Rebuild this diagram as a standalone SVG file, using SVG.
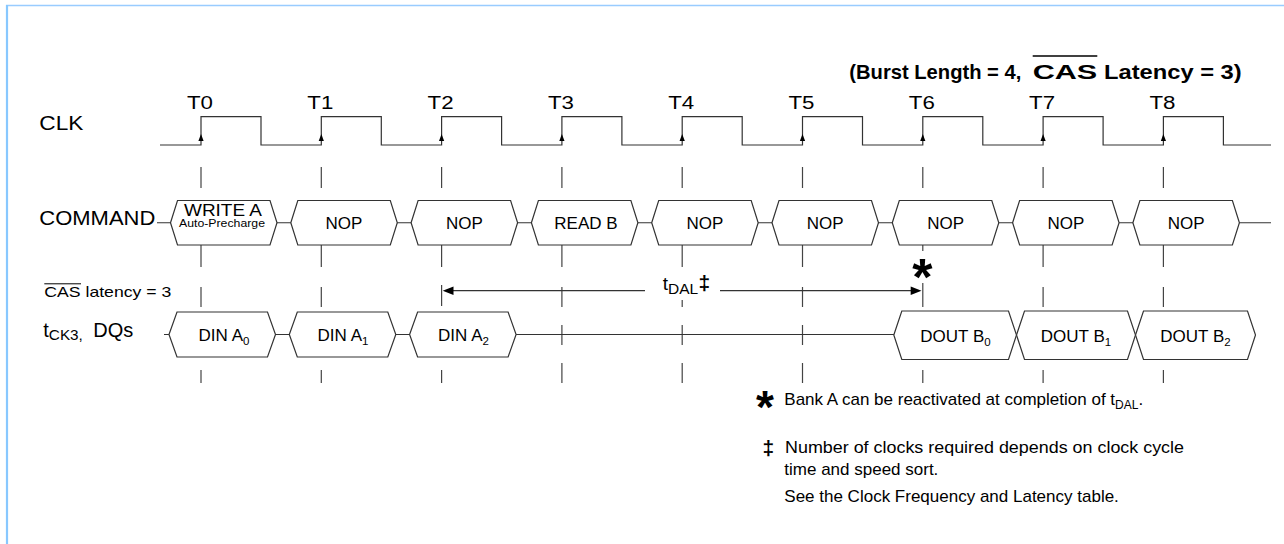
<svg xmlns="http://www.w3.org/2000/svg" width="1284" height="544" viewBox="0 0 1284 544">
<style>
text{font-family:"Liberation Sans",Arial,Helvetica,sans-serif;fill:#000}
.ln{stroke:#333;stroke-width:1.2;fill:none}
.bx{stroke:#333;stroke-width:1.2;fill:#fff}
.tk{stroke:#444;stroke-width:1.2}
.lbl{font-size:17px;text-anchor:middle}
.tl{font-size:18px;text-anchor:middle}
.sub{font-size:11.5px}
.note{font-size:17px}
</style>
<defs>
<path id="ck" d="M0,0 L-2.6,7 L2.6,7 Z" fill="#000"/>
</defs>
<rect x="0" y="0" width="1284" height="544" fill="#fff"/>
<line x1="6" y1="5.5" x2="1284" y2="5.5" stroke="#99ccff" stroke-width="1.5"/>
<line x1="7" y1="5" x2="7" y2="544" stroke="#88c8ff" stroke-width="2.2"/>

<g id="title">
<text y="79.3" font-size="21" font-weight="bold"><tspan x="849.3" textLength="172" lengthAdjust="spacingAndGlyphs">(Burst Length = 4,</tspan><tspan x="1032.7" textLength="64.6" lengthAdjust="spacingAndGlyphs">CAS</tspan><tspan x="1104" textLength="137.7" lengthAdjust="spacingAndGlyphs">Latency = 3)</tspan></text>
<line x1="1032.7" y1="56" x2="1097.3" y2="56" stroke="#000" stroke-width="1.6"/>
</g>

<g id="labels">
<text x="39.3" y="130" font-size="19.5" textLength="44" lengthAdjust="spacingAndGlyphs">CLK</text>
<text x="39.3" y="224.5" font-size="19.5" textLength="116" lengthAdjust="spacingAndGlyphs">COMMAND</text>
<text x="44.3" y="296.5" font-size="15" textLength="127" lengthAdjust="spacingAndGlyphs">CAS latency = 3</text>
<line x1="44.3" y1="283.8" x2="81" y2="283.8" stroke="#000" stroke-width="1"/>
<text x="43.3" y="336.7" font-size="20">t<tspan font-size="14" dy="3.5" textLength="34" lengthAdjust="spacingAndGlyphs">CK3,</tspan><tspan x="93.3" dy="-3.5" font-size="19.5" textLength="40" lengthAdjust="spacingAndGlyphs">DQs</tspan></text>
</g>

<g id="clock-labels">
<text class="tl" x="200" y="109" textLength="26" lengthAdjust="spacingAndGlyphs">T0</text>
<text class="tl" x="320.3" y="109" textLength="26" lengthAdjust="spacingAndGlyphs">T1</text>
<text class="tl" x="440.6" y="109" textLength="26" lengthAdjust="spacingAndGlyphs">T2</text>
<text class="tl" x="560.9" y="109" textLength="26" lengthAdjust="spacingAndGlyphs">T3</text>
<text class="tl" x="681.2" y="109" textLength="26" lengthAdjust="spacingAndGlyphs">T4</text>
<text class="tl" x="801.5" y="109" textLength="26" lengthAdjust="spacingAndGlyphs">T5</text>
<text class="tl" x="921.8" y="109" textLength="26" lengthAdjust="spacingAndGlyphs">T6</text>
<text class="tl" x="1042.1" y="109" textLength="26" lengthAdjust="spacingAndGlyphs">T7</text>
<text class="tl" x="1162.4" y="109" textLength="26" lengthAdjust="spacingAndGlyphs">T8</text>
</g>

<g id="connectors">
<path class="ln" d="M160,145 H201 V116.7 H261 V145 H321.3 V116.7 H381.3 V145 H441.6 V116.7 H501.6 V145 H561.9 V116.7 H621.9 V145 H682.2 V116.7 H742.2 V145 H802.5 V116.7 H862.5 V145 H922.8 V116.7 H982.8 V145 H1043.1 V116.7 H1103.1 V145 H1163.4 V116.7 H1223.4 V145 H1271"/>
<use href="#ck" x="201" y="134"/><use href="#ck" x="321.3" y="134"/><use href="#ck" x="441.6" y="134"/>
<use href="#ck" x="561.9" y="134"/><use href="#ck" x="682.2" y="134"/><use href="#ck" x="802.5" y="134"/>
<use href="#ck" x="922.8" y="134"/><use href="#ck" x="1043.1" y="134"/><use href="#ck" x="1163.4" y="134"/>
<path class="tk" d="M201,167V188M321.3,167V188M441.6,167V188M561.9,167V188M682.2,167V188M802.5,167V188M922.8,167V188M1043.1,167V188M1163.4,167V188"/>
<path class="tk" d="M201,245V267M321.3,245V267M441.6,245V267M561.9,245V267M682.2,245V267M802.5,245V267M922.8,245V251M1043.1,245V267M1163.4,245V267"/>
<path class="tk" d="M201,287V307M321.3,287V307M441.6,285V306M561.9,287V307M682.2,300V307M802.5,287V307M922.8,283V307M1043.1,287V307M1163.4,287V307"/>
<path class="tk" d="M561.9,325V345M682.2,325V345M802.5,325V345"/>
<path class="tk" d="M201,370V383M321.3,370V383M441.6,370V383M561.9,363V383M682.2,363V383M802.5,363V383M922.8,370V383M1043.1,370V383M1163.4,370V383"/>
<path class="ln" d="M157,222.75H1271"/>
<path class="ln" d="M164,334.5H894"/>
<path class="ln" d="M453,290.7H645M720,290.7H911"/>
<path d="M442.7,290.7L453.5,286.5L453.5,295Z" fill="#000"/>
<path d="M921.5,290.7L910.7,286.5L910.7,295Z" fill="#000"/>
</g>

<g id="cmd0"><path class="bx" d="M170.5,222.75L177.5,200.5H270L277,222.75L270,245H177.5Z"/>
<text x="223" y="215.5" font-size="16.5" text-anchor="middle" textLength="78" lengthAdjust="spacingAndGlyphs">WRITE A</text>
<text x="222" y="226.5" font-size="10.5" text-anchor="middle" textLength="86" lengthAdjust="spacingAndGlyphs">Auto-Precharge</text></g>
<g id="cmd1"><path class="bx" d="M290.8,222.75L297.8,200.5H390.3L397.3,222.75L390.3,245H297.8Z"/><text class="lbl" x="344" y="228.75">NOP</text></g>
<g id="cmd2"><path class="bx" d="M411.1,222.75L418.1,200.5H510.6L517.6,222.75L510.6,245H418.1Z"/><text class="lbl" x="464.35" y="228.75">NOP</text></g>
<g id="cmd3"><path class="bx" d="M531.4,222.75L538.4,200.5H630.9L637.9,222.75L630.9,245H538.4Z"/><text class="lbl" x="586" y="228.75">READ B</text></g>
<g id="cmd4"><path class="bx" d="M651.7,222.75L658.7,200.5H751.2L758.2,222.75L751.2,245H658.7Z"/><text class="lbl" x="704.95" y="228.75">NOP</text></g>
<g id="cmd5"><path class="bx" d="M772,222.75L779,200.5H871.5L878.5,222.75L871.5,245H779Z"/><text class="lbl" x="825.25" y="228.75">NOP</text></g>
<g id="cmd6"><path class="bx" d="M892.3,222.75L899.3,200.5H991.8L998.8,222.75L991.8,245H899.3Z"/><text class="lbl" x="945.55" y="228.75">NOP</text></g>
<g id="cmd7"><path class="bx" d="M1012.6,222.75L1019.6,200.5H1112.1L1119.1,222.75L1112.1,245H1019.6Z"/><text class="lbl" x="1065.85" y="228.75">NOP</text></g>
<g id="cmd8"><path class="bx" d="M1132.9,222.75L1139.9,200.5H1232.4L1239.4,222.75L1232.4,245H1139.9Z"/><text class="lbl" x="1186.15" y="228.75">NOP</text></g>

<g id="dq0"><path class="bx" d="M169,334.5L177,312H267.5L275.5,334.5L267.5,357H177Z"/><text class="lbl" x="224" y="341" font-size="16.5">DIN A<tspan class="sub" dy="4">0</tspan></text></g>
<g id="dq1"><path class="bx" d="M289.3,334.5L297.3,312H387.8L395.8,334.5L387.8,357H297.3Z"/><text class="lbl" x="343" y="341" font-size="16.5">DIN A<tspan class="sub" dy="4">1</tspan></text></g>
<g id="dq2"><path class="bx" d="M409.6,334.5L417.6,312H508.1L516.1,334.5L508.1,357H417.6Z"/><text class="lbl" x="463.5" y="341" font-size="16.5">DIN A<tspan class="sub" dy="4">2</tspan></text></g>
<g id="dq6"><path class="bx" d="M893.8,335L901.8,311H1008.5L1016.5,335L1008.5,359.5H901.8Z"/><text class="lbl" x="955.5" y="341.7">DOUT B<tspan class="sub" dy="4">0</tspan></text></g>
<g id="dq7"><path class="bx" d="M1016.5,335L1024.5,311H1127.5L1135.5,335L1127.5,359.5H1024.5Z"/><text class="lbl" x="1076" y="341.7">DOUT B<tspan class="sub" dy="4">1</tspan></text></g>
<g id="dq8"><path class="bx" d="M1135.5,335L1143.5,311H1247.5L1255.5,335L1247.5,359.5H1143.5Z"/><text class="lbl" x="1195.5" y="341.7">DOUT B<tspan class="sub" dy="4">2</tspan></text></g>

<g id="tdal">
<text x="662.7" y="290" font-size="19">t<tspan font-size="15.5" dy="3.5">DAL</tspan><tspan x="698.5" dy="-3.5" font-size="21" font-weight="bold">‡</tspan></text>
<text x="922.3" y="295" font-size="52" font-weight="bold" text-anchor="middle">*</text>
</g>

<g id="notes">
<text x="765" y="423" font-size="46" font-weight="bold" text-anchor="middle">*</text>
<text class="note" x="784.3" y="405">Bank A can be reactivated at completion of t<tspan font-size="12" dy="3.5">DAL</tspan><tspan dy="-3.5">.</tspan></text>
<text x="768.3" y="455" font-size="21" font-weight="bold" text-anchor="middle">‡</text>
<text class="note" x="785" y="453.3" textLength="399" lengthAdjust="spacingAndGlyphs">Number of clocks required depends on clock cycle</text>
<text class="note" x="784.3" y="475">time and speed sort.</text>
<text class="note" x="784.3" y="501.7">See the Clock Frequency and Latency table.</text>
</g>
</svg>
